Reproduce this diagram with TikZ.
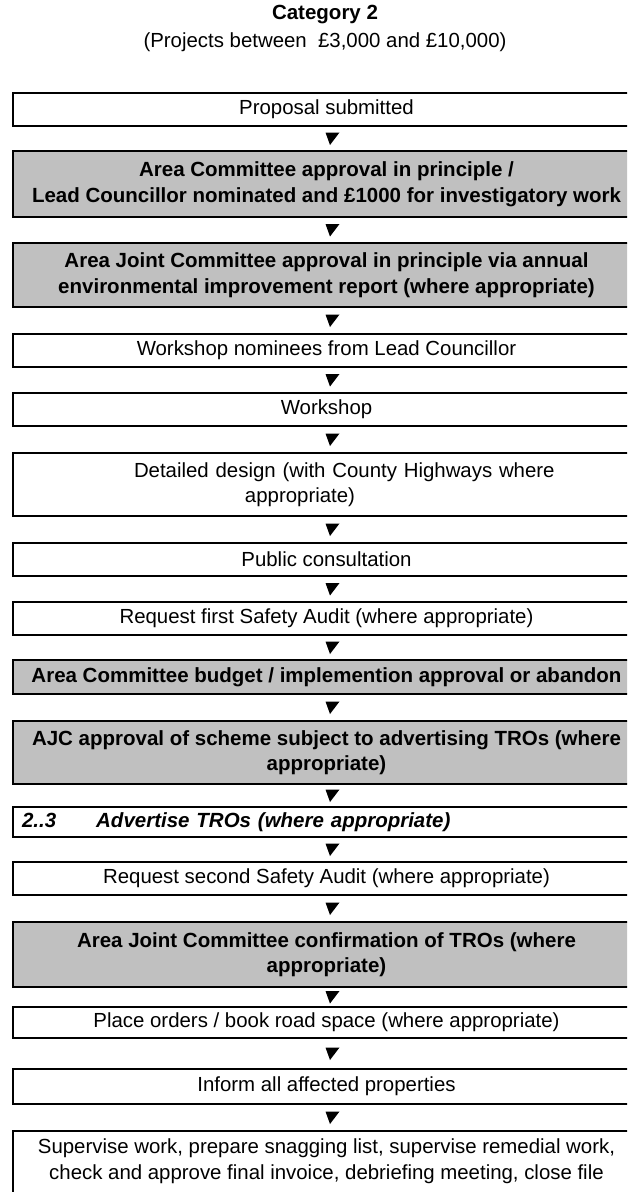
\documentclass[tikz,border=0pt]{standalone}
\usepackage{fontspec}
\setmainfont{Liberation Sans}
\usetikzlibrary{calc}
\definecolor{boxgray}{RGB}{192,192,192}
\newcommand\stagefont{\fontsize{20.4}{25.5}\selectfont}
\newcommand\keyfont{\fontsize{20.5}{25.5}\selectfont\bfseries}
% small filled down-pointing triangle placed midway between two stages
\newcommand\flowarrow[2]{%
  \fill[black] ($(#1.south)!0.5!(#2.north)$) ++(-1,-6) -- ++(14,0) -- ++(-9.5,12.5) -- cycle;}
\begin{document}
\begin{tikzpicture}[x=1pt,y=-1pt,
  stage/.style={draw=black, line width=2pt, minimum width=627pt, inner sep=0pt,
                align=center, font=\stagefont, anchor=north},
  plain/.style={stage, fill=white},
  shaded/.style={stage, fill=boxgray, font=\keyfont},
  heading/.style={font=\stagefont, inner sep=0pt}]
\useasboundingbox (0,0) rectangle (627,1192);
\clip (0,0) rectangle (627,1192);
\fill[white] (0,0) rectangle (627,1192);

\node[heading, font=\keyfont] (title) at (325,15) {Category 2};
\node[heading] (sub) at (325,42) {(Projects between\ \ £3,000 and £10,000)};

\node[plain,  minimum height=33pt] (b1)  at (326.5,92)  {Proposal submitted};
\node[shaded, minimum height=66pt] (b2)  at (326.5,150) {Area Committee approval in principle /\\Lead Councillor nominated and £1000 for investigatory work};
\node[shaded, minimum height=64pt] (b3)  at (326.5,242) {Area Joint Committee approval in principle via annual\\environmental improvement report (where appropriate)};
\node[plain,  minimum height=33pt] (b4)  at (326.5,333) {Workshop nominees from Lead Councillor};
\node[plain,  minimum height=33pt] (b5)  at (326.5,392) {Workshop};
\node[plain,  minimum height=63pt, align=left, text width=627pt] (b6) at (326.5,452)
  {\hspace*{121pt}Detailed design (with County Highways where\\\hspace*{232pt}appropriate)};
\node[plain,  minimum height=33pt] (b7)  at (326.5,542) {Public consultation};
\node[plain,  minimum height=33pt] (b8)  at (326.5,601) {Request first Safety Audit (where appropriate)};
\node[shaded, minimum height=34pt] (b9)  at (326.5,659) {Area Committee budget / implemention approval or abandon};
\node[shaded, minimum height=63pt] (b10) at (326.5,720) {AJC approval of scheme subject to advertising TROs (where\\appropriate)};
\node[plain,  minimum height=30pt, align=left, text width=627pt, font=\keyfont\itshape] (b11) at (326.5,806)
  {\hspace*{9pt}2..3\hspace*{40pt}Advertise TROs (where appropriate)};
\node[plain,  minimum height=33pt] (b12) at (326.5,861) {Request second Safety Audit (where appropriate)};
\node[shaded, minimum height=65pt] (b13) at (326.5,921) {Area Joint Committee confirmation of TROs (where\\appropriate)};
\node[plain,  minimum height=31pt] (b14) at (326.5,1006) {Place orders / book road space (where appropriate)};
\node[plain,  minimum height=35pt] (b15) at (326.5,1068) {Inform all affected properties};
% last stage runs on past the foot of the page; the rule keeps its text near the top
\node[plain,  minimum height=80pt] (b16) at (326.5,1130) {Supervise work, prepare snagging list, supervise remedial work,\\check and approve final invoice, debriefing meeting, close file\rule[-24pt]{0pt}{24pt}};

\flowarrow{b1}{b2}
\flowarrow{b2}{b3}
\flowarrow{b3}{b4}
\flowarrow{b4}{b5}
\flowarrow{b5}{b6}
\flowarrow{b6}{b7}
\flowarrow{b7}{b8}
\flowarrow{b8}{b9}
\flowarrow{b9}{b10}
\flowarrow{b10}{b11}
\flowarrow{b11}{b12}
\flowarrow{b12}{b13}
\flowarrow{b13}{b14}
\flowarrow{b14}{b15}
\flowarrow{b15}{b16}
\end{tikzpicture}
\end{document}
